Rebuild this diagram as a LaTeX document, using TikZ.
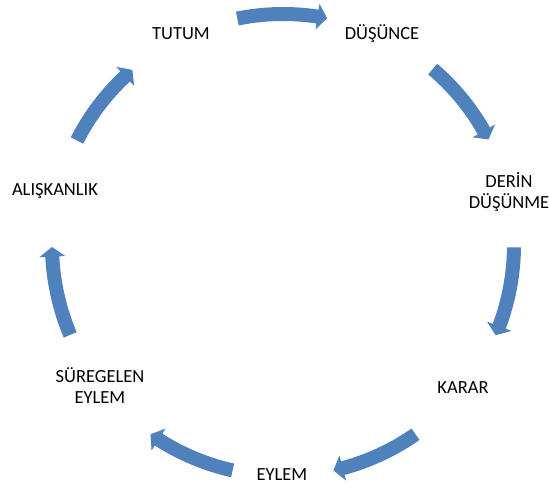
\documentclass[tikz,border=0pt]{standalone}
\usepackage{fontspec}
\setmainfont{Carlito}
\definecolor{arrowblue}{RGB}{79,129,189}
\begin{document}
\begin{tikzpicture}[x=1pt,y=1pt,
  lbl/.style={font=\fontsize{18.5}{21}\selectfont, align=center, inner sep=0pt, anchor=base, text=black},
  cyc/.style={fill=arrowblue, draw=none}]
\useasboundingbox (0,0) rectangle (549,489);
\coordinate (c) at (283,244);
\foreach \m in {90.2,38.4,-11.8,-66.2,-113.8,191.7,141.9} {
  \pgfmathsetmacro\a{\m+11.2}
  \pgfmathsetmacro\t{\m-11.2}
  \pgfmathsetmacro\h{\t+2.4}
  \fill[cyc] ([shift={(\a:238)}]c) arc[start angle=\a, end angle=\h, radius=238]
    -- ([shift={(\h:244)}]c) -- ([shift={(\t:231)}]c) -- ([shift={(\h:218)}]c)
    -- ([shift={(\h:224)}]c) arc[start angle=\h, end angle=\a, radius=224] -- cycle;
}
\node[lbl] (tutum) at (181,449) {TUTUM};
\node[lbl] (dusunce) at (382,449) {DÜŞÜNCE};
\node[lbl] (derin) at (509,280) {DERİN\\DÜŞÜNME};
\node[lbl] (karar) at (463,95) {KARAR};
\node[lbl] (eylem) at (282,8) {EYLEM};
\node[lbl] (suregelen) at (100,85) {SÜREGELEN\\EYLEM};
\node[lbl] (aliskanlik) at (55,293) {ALIŞKANLIK};
\end{tikzpicture}
\end{document}
